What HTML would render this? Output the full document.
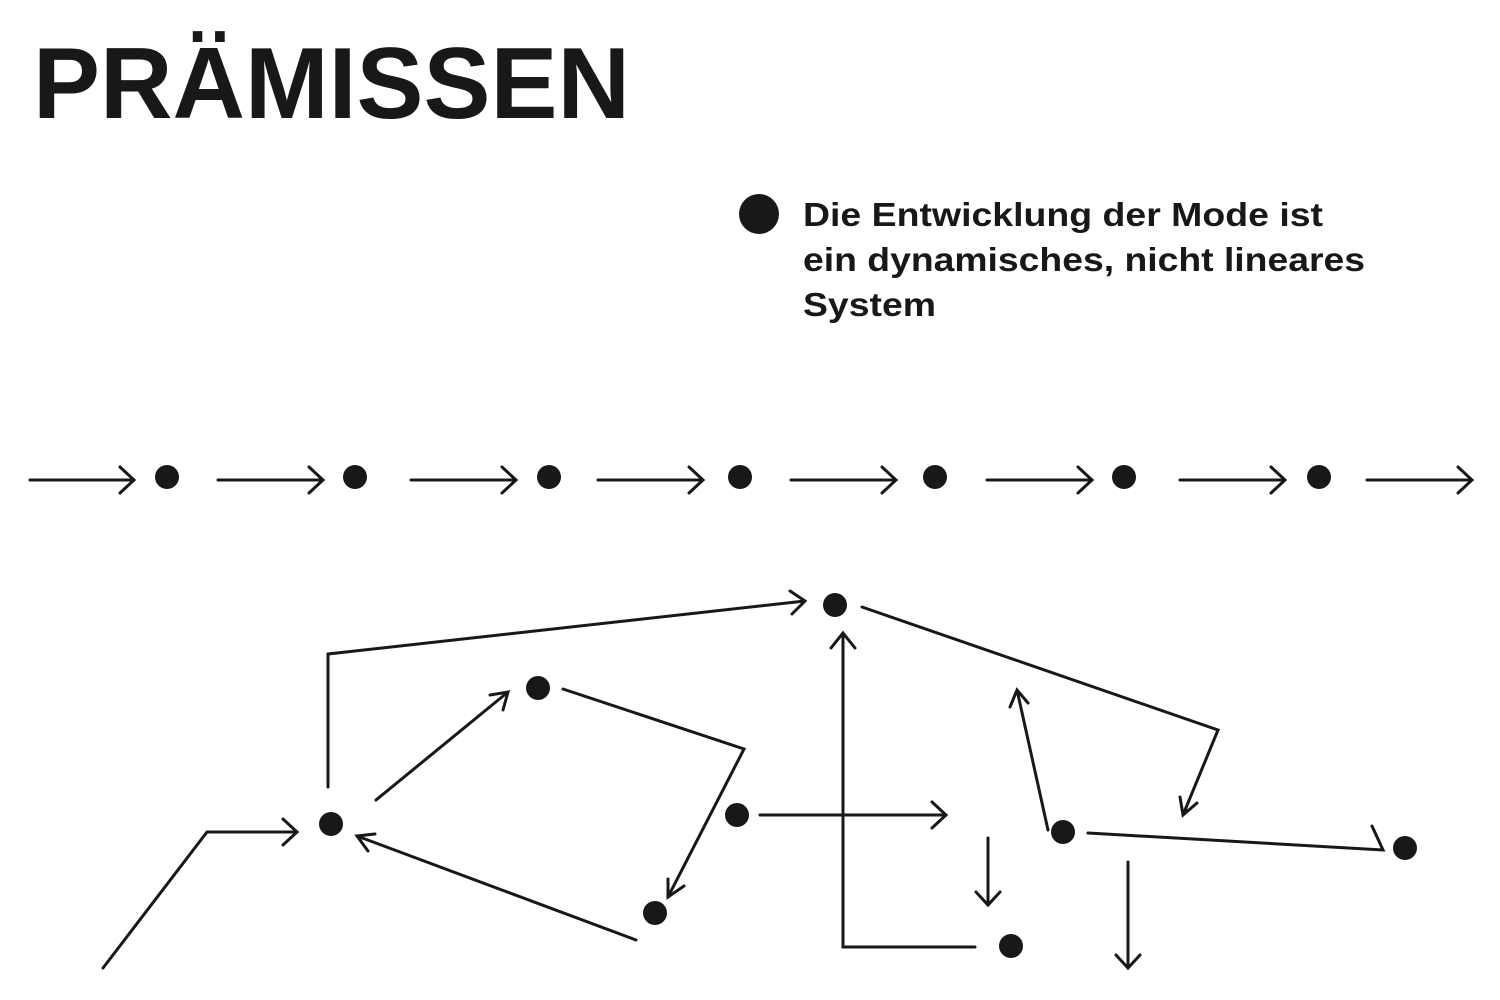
<!DOCTYPE html>
<html><head><meta charset="utf-8"><style>html,body{margin:0;padding:0;background:#fff}svg{display:block}</style></head>
<body>
<svg width="1500" height="1000" viewBox="0 0 1500 1000" xmlns="http://www.w3.org/2000/svg">
<text x="33" y="118" font-family="Liberation Sans, sans-serif" font-weight="bold" font-size="101" fill="#1a1718" textLength="597" lengthAdjust="spacingAndGlyphs">PRÄMISSEN</text>
<circle cx="759" cy="214" r="20" fill="#1a1718"/>
<g font-family="Liberation Sans, sans-serif" font-weight="bold" font-size="33" fill="#1a1718">
<text x="803" y="226" textLength="520" lengthAdjust="spacingAndGlyphs">Die Entwicklung der Mode ist</text>
<text x="803" y="271" textLength="562" lengthAdjust="spacingAndGlyphs">ein dynamisches, nicht lineares</text>
<text x="803" y="316" textLength="133" lengthAdjust="spacingAndGlyphs">System</text>
</g>
<g stroke="#1a1718" stroke-width="3" fill="none" stroke-linecap="round" stroke-linejoin="miter">
<!-- top row -->
<path d="M30 480H134M120 467L134 480L120 493"/>
<path d="M218 480H323M309 467L323 480L309 493"/>
<path d="M411 480H516M502 467L516 480L502 493"/>
<path d="M598 480H703M689 467L703 480L689 493"/>
<path d="M791 480H896M882 467L896 480L882 493"/>
<path d="M987 480H1092M1078 467L1092 480L1078 493"/>
<path d="M1180 480H1285M1271 467L1285 480L1271 493"/>
<path d="M1367 480H1472M1458 467L1472 480L1458 493"/>
<!-- network -->
<path d="M103 968L207 832H297M283 819L297 832L283 845"/>
<path d="M328 787V654L805 601M790 591L805 601L792 614"/>
<path d="M376 800L508 692M490 695L508 692L503 710"/>
<path d="M563 689L744 749L668 897M668 879L668 897L684 886"/>
<path d="M636 940L357 836M368 851L357 836L375 834"/>
<path d="M760 815H946M932 802L946 815L932 828"/>
<path d="M975 947H843V633M831 648L843 633L855 648"/>
<path d="M862 607L1218 730L1183 815M1180 797L1183 815L1197 803"/>
<path d="M1048 830L1017 690M1010 707L1017 690L1028 703"/>
<path d="M988 838V905M976 892L988 905L1000 892"/>
<path d="M1088 833L1383 850L1372 826"/>
<path d="M1128 862V968M1116 955L1128 968L1140 955"/>
</g>
<g fill="#1a1718">
<circle cx="167" cy="477" r="12"/><circle cx="355" cy="477" r="12"/><circle cx="549" cy="477" r="12"/><circle cx="740" cy="477" r="12"/><circle cx="935" cy="477" r="12"/><circle cx="1124" cy="477" r="12"/><circle cx="1319" cy="477" r="12"/>
<circle cx="331" cy="824" r="12"/><circle cx="538" cy="688" r="12"/><circle cx="835" cy="605" r="12"/><circle cx="737" cy="815" r="12"/><circle cx="655" cy="913" r="12"/><circle cx="1063" cy="832" r="12"/><circle cx="1011" cy="946" r="12"/><circle cx="1405" cy="848" r="12"/>
</g>
</svg>
</body></html>
